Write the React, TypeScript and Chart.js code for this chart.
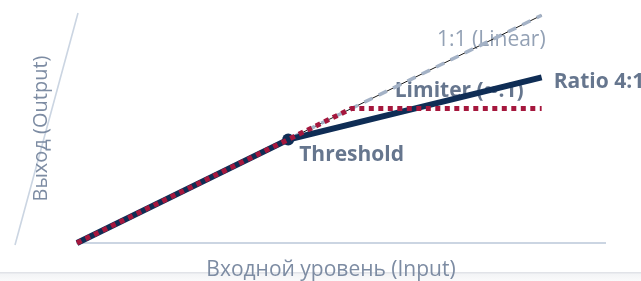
import React, { useEffect, useRef } from "react";
import { Chart, registerables } from "chart.js";

Chart.register(...registerables);

// Transfer curve data (input level -> output level)
const linearInput = [0, 88];
const linearOutput = [0, 88];
const ratioInput = [0, 40, 88];
const ratioOutput = [0, 40, 64];
const limiterInput = [0, 40, 52, 88];
const limiterOutput = [0, 40, 52, 52];
const thresholdIndex = 1;

const xTitle = "Входной уровень (Input)";
const yTitle = "Выход (Output)";
const linearLabel = "1:1 (Linear)";
const ratioLabel = "Ratio 4:1";
const limiterLabel = "Limiter (∞:1)";
const thresholdLabel = "Threshold";

const NAVY = "#0f2d55";
const RED = "#a5173d";
const GRAY_DASH = "#a4b2c6";
const TEXT = "#66768e";
const TITLE = "#7d8ca3";
const AXIS = "#cbd5e2";

const pts = (xs: number[], ys: number[]) => xs.map((x, i) => ({ x, y: ys[i] }));

const decorPlugin = {
  id: "decor",
  beforeDraw(chart: any) {
    const { ctx, chartArea } = chart;
    ctx.save();
    // slanted output axis
    ctx.strokeStyle = AXIS;
    ctx.lineWidth = 1.6;
    ctx.beginPath();
    ctx.moveTo(chartArea.left - 62, chartArea.bottom + 2);
    ctx.lineTo(chartArea.left + 1, chartArea.top - 1);
    ctx.stroke();
    // axis titles
    ctx.fillStyle = TITLE;
    ctx.textAlign = "center";
    ctx.textBaseline = "middle";
    ctx.font = "21px 'Open Sans', sans-serif";
    ctx.fillText(xTitle, chartArea.left + (chartArea.right - chartArea.left) / 2 - 10, chartArea.bottom + 27);
    ctx.translate(chartArea.left - 36, chartArea.top + (chartArea.bottom - chartArea.top) / 2);
    ctx.rotate(-Math.PI / 2);
    ctx.font = "20px 'Open Sans', sans-serif";
    ctx.fillText(yTitle, 0, 0);
    ctx.restore();
  },
  beforeDatasetsDraw(chart: any) {
    const { ctx, scales } = chart;
    const xs = scales.x;
    const ys = scales.y;
    ctx.save();
    ctx.textBaseline = "middle";
    // 1:1 label
    const lx = xs.getPixelForValue(linearInput[linearInput.length - 1]);
    const ly = ys.getPixelForValue(linearOutput[linearOutput.length - 1]);
    ctx.font = "21px 'Open Sans', sans-serif";
    ctx.fillStyle = "#93a1b5";
    ctx.textAlign = "right";
    ctx.fillText(linearLabel, lx + 4, ly + 25);
    // Ratio label
    const rx = xs.getPixelForValue(ratioInput[ratioInput.length - 1]);
    const ry = ys.getPixelForValue(ratioOutput[ratioOutput.length - 1]);
    ctx.font = "bold 21px 'Open Sans', sans-serif";
    ctx.fillStyle = TEXT;
    ctx.textAlign = "left";
    ctx.fillText(ratioLabel, rx + 12, ry + 5);
    // Limiter label
    const mx = xs.getPixelForValue(limiterInput[limiterInput.length - 1]);
    const my = ys.getPixelForValue(limiterOutput[limiterOutput.length - 1]);
    ctx.textAlign = "right";
    ctx.fillText(limiterLabel, mx - 18, my - 17);
    // Threshold label
    const tx = xs.getPixelForValue(ratioInput[thresholdIndex]);
    const ty = ys.getPixelForValue(ratioOutput[thresholdIndex]);
    ctx.textAlign = "left";
    ctx.fillText(thresholdLabel, tx + 11, ty + 16);
    ctx.restore();
  },
};

export default function App() {
  const ref = useRef<HTMLCanvasElement | null>(null);
  useEffect(() => {
    if (!ref.current) return;
    Chart.defaults.font.family = "'Open Sans', sans-serif";
    const chart = new Chart(ref.current, {
      type: "line",
      data: {
        datasets: [
          {
            label: "Limiter",
            data: pts(limiterInput, limiterOutput),
            borderColor: RED,
            borderWidth: 5,
            borderDash: [5, 4.5],
            pointRadius: 0,
            fill: false,
            clip: false as any,
            order: 0,
          },
          {
            label: "Ratio",
            data: pts(ratioInput, ratioOutput),
            borderColor: NAVY,
            backgroundColor: NAVY,
            borderWidth: 6,
            pointRadius: ratioInput.map((_, i) => (i === thresholdIndex ? 6 : 0)),
            pointBorderWidth: 0,
            pointBackgroundColor: NAVY,
            fill: false,
            clip: false as any,
            order: 1,
          },
          {
            label: "Linear dash",
            data: pts(linearInput, linearOutput),
            borderColor: GRAY_DASH,
            borderWidth: 3.5,
            borderDash: [9, 7],
            pointRadius: 0,
            fill: false,
            clip: false as any,
            order: 2,
          },
          {
            label: "Linear",
            data: pts(linearInput, linearOutput),
            borderColor: "#1a1a1a",
            borderWidth: 1,
            pointRadius: 0,
            fill: false,
            clip: false as any,
            order: 3,
          },
        ],
      },
      options: {
        responsive: false,
        animation: false,
        layout: { padding: { top: 14, right: 36, left: 77, bottom: 38 } },
        plugins: { legend: { display: false }, tooltip: { enabled: false } },
        scales: {
          x: {
            type: "linear",
            min: 0,
            max: 100,
            ticks: { display: false },
            grid: { display: false, drawTicks: false, tickLength: 0 },
            border: { display: true, color: AXIS, width: 2 },
            title: { display: false },
          },
          y: {
            type: "linear",
            display: false,
            min: 0,
            max: 88.5,
          },
        },
      },
      plugins: [decorPlugin],
    });
    return () => chart.destroy();
  }, []);

  return (
    <div style={{ position: "absolute", left: 0, top: 0, width: 641, height: 281, background: "#fff", overflow: "hidden" }}>
      <div
        style={{
          position: "absolute",
          left: 0,
          top: 272,
          width: 641,
          height: 9,
          background: "linear-gradient(#e1e3e8 0px, #e1e3e8 1px, #f3f4f6 2px, #fafafb 100%)",
        }}
      />
      <canvas ref={ref} width={641} height={281} style={{ position: "absolute", left: 0, top: 0, display: "block" }} />
    </div>
  );
}
